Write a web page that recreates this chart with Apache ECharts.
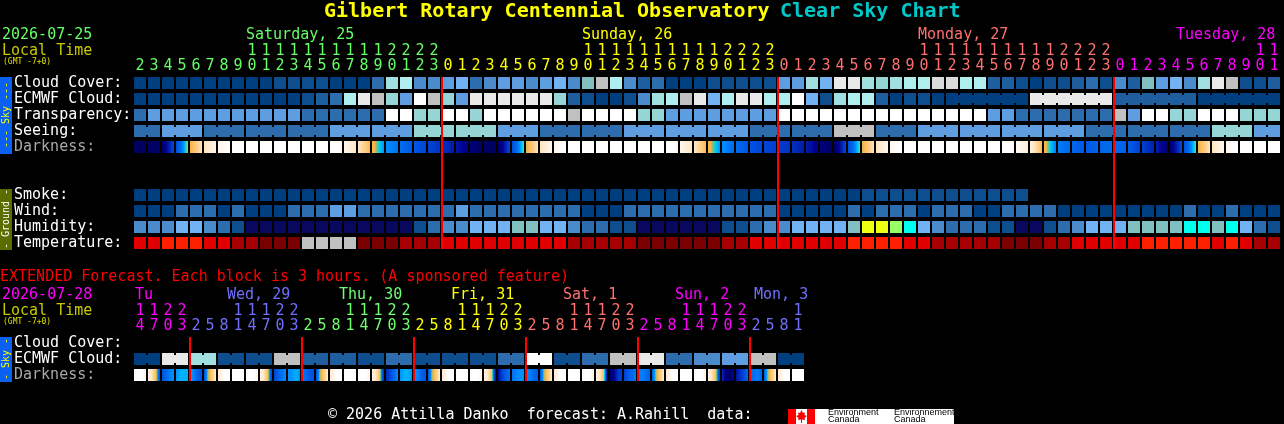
<!DOCTYPE html>
<html><head><meta charset="utf-8">
<style>html,body{margin:0;padding:0;background:#000}#c{width:1284px;height:424px}</style>
<script src="https://cdn.jsdelivr.net/npm/echarts@6/dist/echarts.min.js"></script>
</head><body><div id="c"></div>
<script>
// ---------- row names and tick labels ----------
const rowNames = ['Cloud Cover:','ECMWF Cloud:','Transparency:','Seeing:','Darkness:','','','Smoke:','Wind:','Humidity:','Temperature:'];
const extRowNames = ['Cloud Cover:','ECMWF Cloud:','Darkness:'];
const hours = [2,3,4,5,6,7,8,9,10,11,12,13,14,15,16,17,18,19,20,21,22,23,
  0,1,2,3,4,5,6,7,8,9,10,11,12,13,14,15,16,17,18,19,20,21,22,23,
  0,1,2,3,4,5,6,7,8,9,10,11,12,13,14,15,16,17,18,19,20,21,22,23,
  0,1,2,3,4,5,6,7,8,9,10,11];
const extHours = [14,17,20,23, 2,5,8,11,14,17,20,23, 2,5,8,11,14,17,20,23, 2,5,8,11,14,17,20,23,
  2,5,8,11,14,17,20,23, 2,5,8,11,14,17,20,23, 2,5,8,11];
const midnightCols = [22,46,70];
const extMidnightCols = [4,12,20,28,36,44];

// ---------- hourly forecast (palette levels per hour) ----------
const cloudCover = [0,0,0,0,0,0,0,0,0,0,1,1,1,1,0,0,0,3,9,10,4,4,
  5,6,3,4,5,5,4,5,6,4,7,11,10,4,2,3,0,0,0,1,1,1,1,1,
  5,5,9,6,13,13,9,8,9,10,10,12,12,10,10,2,2,1,0,1,1,2,3,1,
  4,2,7,5,6,4,9,13,11,1,1,2];
const ecmwfCloud = [0,0,0,0,0,0,0,0,0,0,0,0,1,2,3,10,13,11,8,5,14,11,
  8,5,13,13,13,13,13,13,8,2,1,0,0,1,4,9,10,11,13,6,10,13,13,10,
  10,14,6,1,9,10,10,2,0,1,1,0,0,0,0,0,0,0,13,13,13,13,13,13,
  2,2,2,2,2,2,0,0,0,0,0,0];
const transparency = [3,5,5,5,5,5,5,5,5,5,5,5,3,3,3,3,3,3,14,14,8,8,
  14,14,8,14,14,14,14,14,14,11,14,14,14,14,8,8,5,5,5,5,5,5,5,5,
  14,14,14,14,14,14,14,14,14,14,14,14,14,14,14,5,5,3,3,3,3,3,3,3,
  11,5,14,14,8,8,14,14,14,8,8,8];
const seeing = [3,3,5,5,5,3,3,3,3,3,3,3,3,3,5,5,5,5,5,5,8,8,
  8,8,8,8,5,5,5,3,3,3,3,3,3,5,5,5,5,5,5,5,5,5,3,3,
  3,3,3,3,11,11,11,3,3,3,5,5,5,5,5,5,5,5,5,5,5,5,3,3,
  3,3,3,3,3,3,3,8,8,8,5,5];
const darknessEdges = [2,4,5,33,54,68,80,90,100,100,100,100,100,100,100,82,70,56,46,42,36,31,27,
  20,11,4,3,33,53,68,82,92,100,100,100,100,100,100,100,82,70,56,46,41,35,31,30,
  26,21,12,2,33,53,68,82,92,100,100,100,100,100,100,100,85,76,56,44,40,36,39,41,
  38,30,22,6,34,53,68,82,92,100,100,100];
const smoke = [0,0,0,0,0,0,0,0,0,0,0,0,0,0,0,0,0,0,0,0,0,0,
  0,0,0,0,0,0,0,0,0,0,0,0,0,0,0,0,0,0,0,0,0,0,0,0,
  0,0,0,0,0,0,1,1,1,1,1,1,1,1,1,1,1,1];
const wind = [0,0,0,3,3,3,0,3,0,0,0,3,3,3,5,5,3,3,3,3,3,3,
  3,5,3,3,3,3,3,3,3,3,0,0,0,3,3,3,3,3,3,3,3,3,3,3,
  0,0,0,0,0,3,0,3,3,3,0,3,3,3,0,0,3,3,3,3,0,0,0,0,
  0,0,0,0,0,3,0,0,3,0,0,0];
const humidity = [3,3,3,4,4,3,2,1,0,0,0,0,0,0,0,0,0,0,0,0,1,2,
  3,3,4,4,4,5,5,4,4,3,2,2,1,1,0,0,0,0,0,0,1,1,2,3,
  3,4,4,4,4,5,8,8,7,6,4,3,2,2,2,1,1,0,0,1,2,3,4,4,
  4,5,5,5,5,6,6,5,6,4,2,1];
const temperature = [2,2,3,3,3,2,2,1,1,0,0,0,4,4,4,4,0,0,0,1,1,1,
  2,2,2,2,2,2,2,2,2,1,1,1,1,1,0,0,0,0,0,0,1,1,2,2,
  2,2,2,2,2,3,3,3,3,2,2,1,1,1,1,1,0,0,0,1,1,2,2,2,
  2,2,3,3,3,3,3,2,3,2,1,1];
const ecmwfJoined = [[58,63],[64,69],[70,75],[76,81]];
const seeingBlockEnds = [1,4,7,10,13,16,19,22,25,28,31,34,37,40,43,46,49,52,55,58,61,64,67,70,73,76,79,81];

// ---------- extended forecast (one value per 6 h pair / hourly darkness samples) ----------
const extEcmwfBlocks = [0,13,9,1,1,11,2,2,1,3,1,1,1,3,14,1,3,11,13,3,4,5,11,0];
const extDarknessSamples = [
  100,96,88, 80,68,56, 34,40,44, 46,48,48, 48,44,38, 34,52,60, 72,82,92, 100,100,100,
  100,96,88, 80,68,56, 30,38,42, 46,46,48, 46,40,36, 34,52,60, 72,82,92, 100,100,100,
  100,96,88, 80,68,56, 24,32,40, 46,48,48, 46,44,38, 34,52,60, 72,82,92, 100,100,100,
  100,96,88, 80,68,56, 16,30,38, 42,44,46, 46,44,40, 36,52,60, 72,82,92, 100,100,100,
  100,96,88, 80,68,56,  6,14,28, 30,36,40, 44,44,42, 38,52,60, 72,82,92, 100,100,100,
  100,96,88, 80,68,56, 26, 8, 4, 18,26,32, 40,42,44, 38,52,60, 72,82,92, 100,100,100,100];

// ---------- palettes ----------
const cloudPalette = ['#003f7f','#0e4e8e','#1e5e9e','#2d6dad','#4b8bcb','#5e9ee0','#72b2f2','#80c0c0','#95d5d5','#a0e0e0','#aeeeee','#c0c0c0','#dadada','#e9e9e9','#ffffff'];
const humidityPalette = ['#08085e','#0e4e8e','#2d6dad','#4b8bcb','#72b2f2','#80c0c0','#00ffee','#99ff66','#eeff11'];
const temperaturePalette = ['#7a0000','#a60000','#e00000','#ff2000','#c0c0c0'];
const darkRamp = [[0,'#000058'],[8,'#000070'],[14,'#000090'],[20,'#0018a8'],[26,'#0030c0'],[30,'#0040d0'],[34,'#0050e0'],[38,'#0060e8'],[42,'#0070f0'],[46,'#0090ff'],[50,'#00d0f0'],[52,'#70c880'],[54,'#ffb040'],[60,'#ffc878'],[70,'#ffe8c8'],[80,'#fff4e8'],[90,'#ffffff'],[100,'#ffffff']];

const GREEN='#66ff66', YEL='#ffff00', SAL='#ff7070', MAG='#ff00ff', PER='#7070ff', LGR='#70ff70';
const FONT='"DejaVu Sans Mono"';

// ---------- derived helpers ----------
function hex(c){return [1,3,5].map(i=>parseInt(c.substr(i,2),16));}
function rampColor(v){
  for(let i=1;i<darkRamp.length;i++){
    if(v<=darkRamp[i][0]){
      const [a,ca]=darkRamp[i-1],[b,cb]=darkRamp[i],t=(v-a)/(b-a),A=hex(ca),B=hex(cb);
      return 'rgb('+A.map((x,k)=>Math.round(x+(B[k]-x)*t)).join(',')+')';
    }
  }
  return '#fff';
}
function gradientStops(s){
  const n=s.length-1,out=[];
  for(let i=0;i<n;i++){
    const a=s[i],b=s[i+1];
    out.push({offset:i/n,color:rampColor(a)});
    if(a!==b){
      const mids=darkRamp.map(r=>r[0]).filter(p=>p>Math.min(a,b)&&p<Math.max(a,b));
      if(a>b)mids.reverse();
      mids.forEach(p=>out.push({offset:(i+(p-a)/(b-a))/n,color:rampColor(p)}));
    }
    out.push({offset:(i+1)/n,color:rampColor(b)});
  }
  return out;
}
function cells(values,row,palette,joinedFn){
  return values.map((v,c)=>({value:[c,row],col:palette[v],join:joinedFn?joinedFn(c):false}));
}
const inSpans=c=>ecmwfJoined.some(([a,b])=>c>=a&&c<b);
const mainCells=[].concat(
  cells(cloudCover,0,cloudPalette),
  cells(ecmwfCloud,1,cloudPalette,inSpans),
  cells(transparency,2,cloudPalette),
  cells(seeing,3,cloudPalette,c=>!seeingBlockEnds.includes(c)),
  cells(smoke,7,cloudPalette),
  cells(wind,8,cloudPalette),
  cells(humidity,9,humidityPalette),
  cells(temperature,10,temperaturePalette)
);
const extEcmwf=[];extEcmwfBlocks.forEach(v=>{extEcmwf.push(v,v);});
const extCells=cells(extEcmwf,1,cloudPalette,c=>c%2===0);

function renderCell(params,api){
  const p=api.coord([api.value(0),api.value(1)]),s=api.size([1,1]);
  const d=params.context.cells[params.dataIndex];
  const w=s[0]-2,h=s[1]-4,x=p[0]-w/2,y=p[1]-h/2;
  const children=[{type:'rect',shape:{x,y,width:w,height:h},style:{fill:d.col}}];
  if(d.join)children.push({type:'rect',shape:{x:x+w,y:y+2,width:2,height:h-4},style:{fill:d.col}});
  return {type:'group',children};
}
function cellSeries(list,ax){
  return {type:'custom',xAxisIndex:ax.x,yAxisIndex:ax.y,clip:false,silent:true,z:2,encode:{x:0,y:1},
    data:list.map(d=>d.value),
    renderItem:(params,api)=>{params.context.cells=list;return renderCell(params,api);}};
}
function darkSeries(samples,perCell,row,ax){
  const count=(samples.length-1)/perCell,data=[];
  for(let c=0;c<count;c++)data.push([c,row]);
  return {type:'custom',xAxisIndex:ax.x,yAxisIndex:ax.y,clip:false,silent:true,z:2,encode:{x:0,y:1},data,
    renderItem:(params,api)=>{
      const c=api.value(0),p=api.coord([c,api.value(1)]),s=api.size([1,1]),w=s[0]-2,h=s[1]-4;
      return {type:'rect',shape:{x:p[0]-w/2,y:p[1]-h/2,width:w,height:h},
        style:{fill:new echarts.graphic.LinearGradient(0,0,1,0,gradientStops(samples.slice(c*perCell,(c+1)*perCell+1)))}};
    }};
}
function lineSeries(cols,lastRow,ax){
  return {type:'custom',xAxisIndex:ax.x,yAxisIndex:ax.y,clip:false,silent:true,z:5,encode:{x:0},
    data:cols.map(c=>[c,0]),
    renderItem:(params,api)=>{
      const c=api.value(0),a=api.coord([c,0]),b=api.coord([c,lastRow]),s=api.size([1,1]);
      return {type:'rect',shape:{x:a[0]-s[0]/2,y:a[1]-s[1]/2+2,width:2,height:b[1]-a[1]+s[1]-4},style:{fill:'#ff0000'}};
    }};
}

function mainColor(_,i){return i<22?GREEN:i<46?YEL:i<70?SAL:MAG;}
function extColor(_,i){return i<4?MAG:i<12?PER:i<20?LGR:i<28?YEL:i<36?SAL:i<44?MAG:PER;}
function xAxes(grid,labels,colorFn){
  const base={type:'category',gridIndex:grid,position:'top',data:labels.map((_,i)=>i),
    axisLine:{show:false},axisTick:{show:false},splitLine:{show:false}};
  const lab={interval:0,hideOverlap:false,fontFamily:FONT,fontSize:15,color:colorFn,margin:1};
  return [
    Object.assign({},base,{offset:0,axisLabel:Object.assign({},lab,{formatter:(v,i)=>String(labels[i]%10)})}),
    Object.assign({},base,{offset:15,axisLabel:Object.assign({},lab,{formatter:(v,i)=>labels[i]>=10?String(Math.floor(labels[i]/10)):''})})
  ];
}
function yAxis(grid,names){
  return {type:'category',gridIndex:grid,inverse:true,data:names.map((_,i)=>i),
    axisLine:{show:false},axisTick:{show:false},splitLine:{show:false},
    axisLabel:{interval:0,hideOverlap:false,align:'left',margin:119,fontFamily:FONT,fontSize:15,padding:[0,0,5,0],
      formatter:(v,i)=>names[i],color:(v,i)=>names[i]==='Darkness:'?'#a8a8a8':'#ffffff'}};
}
function txt(text,x,y,fill,size,extra){
  return Object.assign({type:'text',x,y,silent:true,style:{text,fill,font:(size||15)+'px '+FONT,textVerticalAlign:'middle'}},extra||{});
}
function vtxt(text,x,y,fill,size){
  return {type:'text',x,y,rotation:Math.PI/2,silent:true,style:{text,fill,font:size+'px '+FONT,textAlign:'center',textVerticalAlign:'middle'}};
}
const SANS='"Liberation Sans"';
const graphicEls=[
  txt('Clear Sky Chart',780,12,'#00c8c8',20,{style:{text:'Clear Sky Chart',fill:'#00c8c8',font:'bold 20px '+FONT,textVerticalAlign:'middle'}}),
  txt('2026-07-25',2,35,GREEN),txt('Local Time',2,51,'#c8c800'),txt('(GMT -7+0)',3,62,'#e0e000',8),
  txt('Saturday, 25',246,35,GREEN),txt('Sunday, 26',582,35,YEL),txt('Monday, 27',918,35,SAL),txt('Tuesday, 28',1176,35,MAG),
  {type:'rect',silent:true,shape:{x:0,y:77,width:12,height:77},style:{fill:'#0a60f0'}},
  vtxt('--- Sky ---',6,115,'#ffff00',10),
  {type:'rect',silent:true,shape:{x:0,y:189,width:12,height:61},style:{fill:'#5a6e00'}},
  vtxt('- Ground -',6,219,'#ffffff',10),
  txt('EXTENDED Forecast. Each block is 3 hours. (A sponsored feature)',0,277,'#ff0000'),
  txt('2026-07-28',2,295,MAG),txt('Local Time',2,311,'#c8c800'),txt('(GMT -7+0)',3,322,'#e0e000',8),
  txt('Tu',135,295,MAG),txt('Wed, 29',227,295,PER),txt('Thu, 30',339,295,LGR),txt('Fri, 31',451,295,YEL),
  txt('Sat, 1',563,295,SAL),txt('Sun, 2',675,295,MAG),txt('Mon, 3',754,295,PER),
  {type:'rect',silent:true,shape:{x:0,y:337,width:12,height:45},style:{fill:'#0a60f0'}},
  vtxt('- Sky -',6,359,'#ffff00',10),
  txt('\u00a9 2026 Attilla Danko  forecast: A.Rahill  data:',328,415,'#ffffff'),
  {type:'rect',silent:true,shape:{x:788,y:409,width:166,height:15},style:{fill:'#ffffff'}},
  {type:'rect',silent:true,shape:{x:788,y:409,width:8,height:15},style:{fill:'#ff0000'}},
  {type:'rect',silent:true,shape:{x:807,y:409,width:8,height:15},style:{fill:'#ff0000'}},
  {type:'polygon',silent:true,shape:{points:[[801.5,410],[803,413],[805,412.5],[804.5,415],[807,416],[804.5,418],[805,420],[802,419.5],[802,423],[801,423],[801,419.5],[798,420],[798.5,418],[796,416],[798.5,415],[798,412.5],[800,413]]},style:{fill:'#ff0000'}},
  {type:'text',silent:true,x:828,y:413,style:{text:'Environment',fill:'#000',font:'9px '+SANS,textVerticalAlign:'middle'}},
  {type:'text',silent:true,x:828,y:420,style:{text:'Canada',fill:'#000',font:'9px '+SANS,textVerticalAlign:'middle'}},
  {type:'text',silent:true,x:894,y:413,style:{text:'Environnement',fill:'#000',font:'9px '+SANS,textVerticalAlign:'middle'}},
  {type:'text',silent:true,x:894,y:420,style:{text:'Canada',fill:'#000',font:'9px '+SANS,textVerticalAlign:'middle'}}
];

const chart=echarts.init(document.getElementById('c'),null,{renderer:'canvas'});
chart.setOption({
  animation:false,backgroundColor:'#000000',
  title:{left:324,top:0,padding:0,
    text:'Gilbert Rotary Centennial Observatory',
    textStyle:{fontFamily:FONT,fontWeight:'bold',fontSize:20,lineHeight:24,color:'#ffff00'}},
  grid:[{left:133,top:75,width:1148,height:176},{left:133,top:335,width:672,height:48}],
  xAxis:[].concat(xAxes(0,hours,mainColor),xAxes(1,extHours,extColor)),
  yAxis:[yAxis(0,rowNames),yAxis(1,extRowNames)],
  series:[
    cellSeries(mainCells,{x:0,y:0}),
    darkSeries(darknessEdges,1,4,{x:0,y:0}),
    lineSeries(midnightCols,10,{x:0,y:0}),
    cellSeries(extCells,{x:2,y:1}),
    darkSeries(extDarknessSamples,3,2,{x:2,y:1}),
    lineSeries(extMidnightCols,2,{x:2,y:1})
  ],
  graphic:graphicEls
});
</script></body></html>
